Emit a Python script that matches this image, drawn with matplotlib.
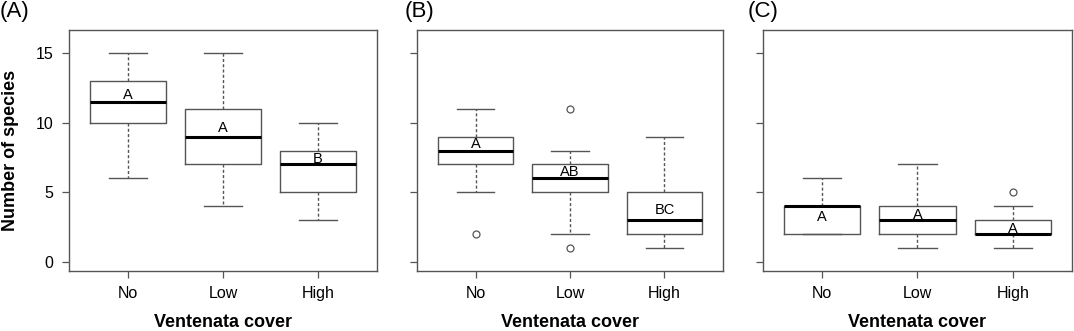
import matplotlib
matplotlib.use("Agg")
import matplotlib.pyplot as plt

plt.rcParams['font.family'] = ['Liberation Sans', 'DejaVu Sans']

categories = ["No", "Low", "High"]
panel_labels = ["(A)", "(B)", "(C)"]

# per panel: lower whisker, Q1, median, Q3, upper whisker, outliers
A_whislo = [6, 4, 3]
A_q1 = [10, 7, 5]
A_med = [11.5, 9, 7]
A_q3 = [13, 11, 8]
A_whishi = [15, 15, 10]
A_fliers = [[], [], []]
A_letters = ["A", "A", "B"]
A_letter_y = [12.0, 9.6, 7.4]

B_whislo = [5, 2, 1]
B_q1 = [7, 5, 2]
B_med = [8, 6, 3]
B_q3 = [9, 7, 5]
B_whishi = [11, 8, 9]
B_fliers = [[2], [11, 1], []]
B_letters = ["A", "AB", "BC"]
B_letter_y = [8.45, 6.45, 3.7]

C_whislo = [2, 1, 1]
C_q1 = [2, 2, 2]
C_med = [4, 3, 2]
C_q3 = [4, 4, 3]
C_whishi = [6, 7, 4]
C_fliers = [[], [], [5]]
C_letters = ["A", "A", "A"]
C_letter_y = [3.25, 3.35, 2.4]

yticks = [0, 5, 10, 15]

panels = [
    (A_whislo, A_q1, A_med, A_q3, A_whishi, A_fliers, A_letters, A_letter_y),
    (B_whislo, B_q1, B_med, B_q3, B_whishi, B_fliers, B_letters, B_letter_y),
    (C_whislo, C_q1, C_med, C_q3, C_whishi, C_fliers, C_letters, C_letter_y),
]

W, H = 1074, 331
fig = plt.figure(figsize=(W / 100, H / 100), dpi=100)

ax_px = [(69, 308), (417, 306), (763, 309)]
label_px = [0, 405, 748]
top_px, bot_px = 30, 271
gray = "#555555"

for i, (pan, (lx, wx)) in enumerate(zip(panels, ax_px)):
    whislo, q1, med, q3, whishi, fliers, letters, letter_y = pan
    ax = fig.add_axes([lx / W, (H - bot_px) / H, wx / W, (bot_px - top_px) / H])
    stats = []
    for j in range(len(categories)):
        stats.append(dict(whislo=whislo[j], q1=q1[j], med=med[j], q3=q3[j],
                          whishi=whishi[j], fliers=fliers[j], label=categories[j]))
    ax.bxp(stats, positions=[1, 2, 3], widths=0.8, showfliers=True,
           boxprops=dict(color=gray, linewidth=1.0),
           medianprops=dict(color="black", linewidth=2.2, solid_capstyle="butt"),
           whiskerprops=dict(color=gray, linewidth=1.0, linestyle=(0, (2.2, 1.6))),
           capprops=dict(color=gray, linewidth=1.0),
           capwidths=0.4,
           flierprops=dict(marker="o", markersize=5, markerfacecolor="none",
                           markeredgecolor=gray, markeredgewidth=0.9))
    for j, (t, y) in enumerate(zip(letters, letter_y)):
        ax.text(j + 1, y, t, ha="center", va="center", fontsize=10.5, color="black")
    ax.set_xlim(0.38, 3.62)
    ax.set_ylim(-0.64, 16.64)
    ax.set_yticks(yticks)
    ax.set_xticks([1, 2, 3])
    ax.set_xticklabels(categories)
    if i == 0:
        ax.set_yticklabels([str(v) for v in yticks])
        ax.set_ylabel("Number of species", fontsize=13, fontweight="bold", labelpad=12)
    else:
        ax.set_yticklabels([])
    ax.set_xlabel("Ventenata cover", fontsize=13, fontweight="bold", labelpad=9)
    ax.tick_params(axis="both", direction="out", length=5, width=0.9, color=gray,
                   labelsize=11.5, pad=6)
    for s in ax.spines.values():
        s.set_color(gray)
        s.set_linewidth(1.0)
    fig.text(label_px[i] / W, 1.0 - 1 / H, panel_labels[i],
             ha="left", va="top", fontsize=16)

fig.savefig("out.png", dpi=100)
